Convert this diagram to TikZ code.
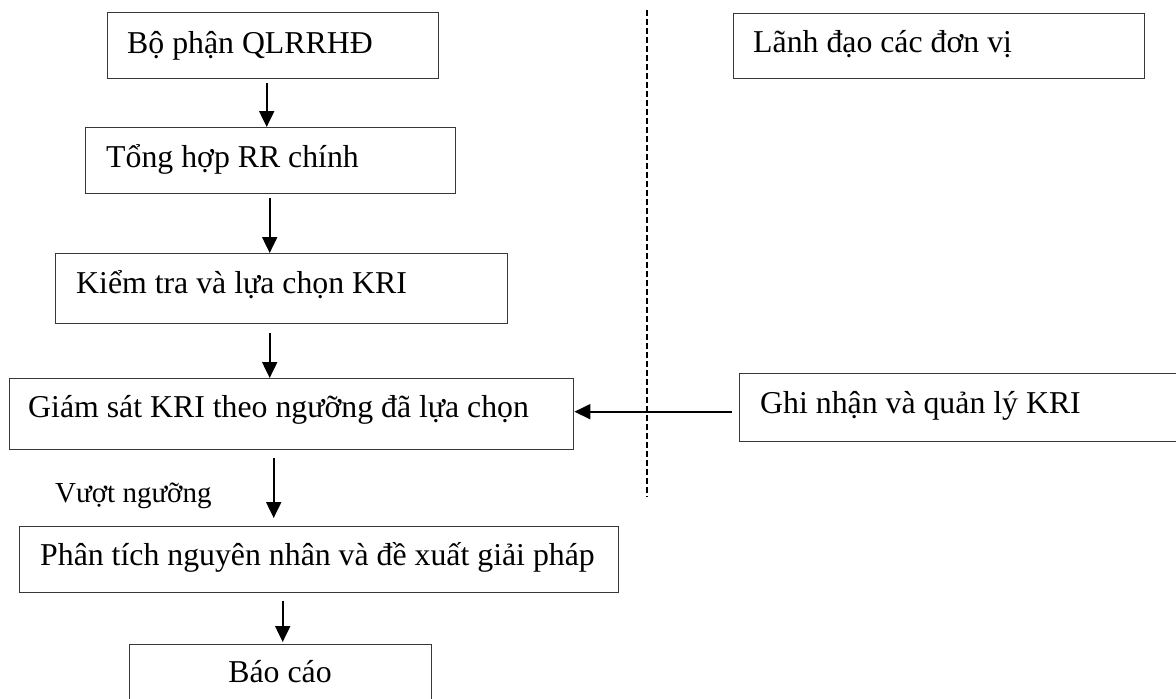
\documentclass[tikz,border=0pt]{standalone}
\usepackage{fontspec}
\setmainfont{Liberation Serif}
\usetikzlibrary{arrows.meta}
\begin{document}
\begin{tikzpicture}[x=1pt,y=-1pt,
  box/.style={draw=black!78, line width=1.4pt, inner sep=0pt, anchor=north west},
  lbl/.style={anchor=base west, inner sep=0pt, font=\fontsize{31.8}{38}\selectfont},
  small/.style={anchor=base west, inner sep=0pt, font=\fontsize{29}{35}\selectfont},
  flow/.style={line width=2pt, -{Triangle[width=15pt,length=16pt]}},
  divider/.style={line width=1.3pt, dash pattern=on 5.5pt off 3.5pt}
]
\useasboundingbox (0,0) rectangle (1176,699);
\clip (0,0) rectangle (1176,699);
\fill[white] (0,0) rectangle (1176,699);

% boxes
\node[box, minimum width=331pt, minimum height=66pt] (b1) at (107,12) {};
\node[box, minimum width=411pt, minimum height=65pt] (ld) at (733,13) {};
\node[box, minimum width=370pt, minimum height=66pt] (b2) at (85,127) {};
\node[box, minimum width=452pt, minimum height=70pt] (b3) at (55,253) {};
\node[box, minimum width=564pt, minimum height=71pt] (b4) at (9,378) {};
\node[box, minimum width=500pt, minimum height=68pt] (gn) at (739,373) {};
\node[box, minimum width=599pt, minimum height=66pt] (b5) at (19,526) {};
\node[box, minimum width=302pt, minimum height=80pt] (b6) at (129,644) {};

% texts
\node[lbl] (t1) at (127,53) {Bộ phận QLRRHĐ};
\node[lbl] (tld) at (753,52) {Lãnh đạo các đơn vị};
\node[lbl] (t2) at (106,167) {Tổng hợp RR chính};
\node[lbl] (t3) at (76,293) {Kiểm tra và lựa chọn KRI};
\node[lbl] (t4) at (28,417) {Giám sát KRI theo ngưỡng đã lựa chọn};
\node[lbl] (tgn) at (760,413) {Ghi nhận và quản lý KRI};
\node[lbl] (t5) at (40,565) {Phân tích nguyên nhân và đề xuất giải pháp};
\node[lbl, anchor=base] (t6) at (280,682) {Báo cáo};
\node[small] (vn) at (55,502) {Vượt ngưỡng};

% divider
\coordinate (dtop) at (647,10);
\coordinate (dbot) at (647,497);
\draw[divider] (dtop) -- (dbot);

% connectors
\draw[flow] ([xshift=-6.5pt,yshift=-4pt]b1.south) -- ([xshift=-4pt]b2.north);
\draw[flow] ([xshift=-1pt,yshift=-4pt]b2.south) -- ([xshift=-12pt]b3.north);
\draw[flow] ([xshift=-12pt,yshift=-9pt]b3.south) -- ([xshift=-22pt]b4.north);
\draw[flow] ([xshift=-18pt,yshift=-8pt]b4.south) -- ([xshift=-45.5pt,yshift=8pt]b5.north);
\draw[flow] ([xshift=-36.5pt,yshift=-8pt]b5.south) -- ([xshift=2pt,yshift=2pt]b6.north);
\draw[flow] ([xshift=-7pt,yshift=-4pt]gn.west) -- ([yshift=2.5pt]b4.east);
\end{tikzpicture}
\end{document}
